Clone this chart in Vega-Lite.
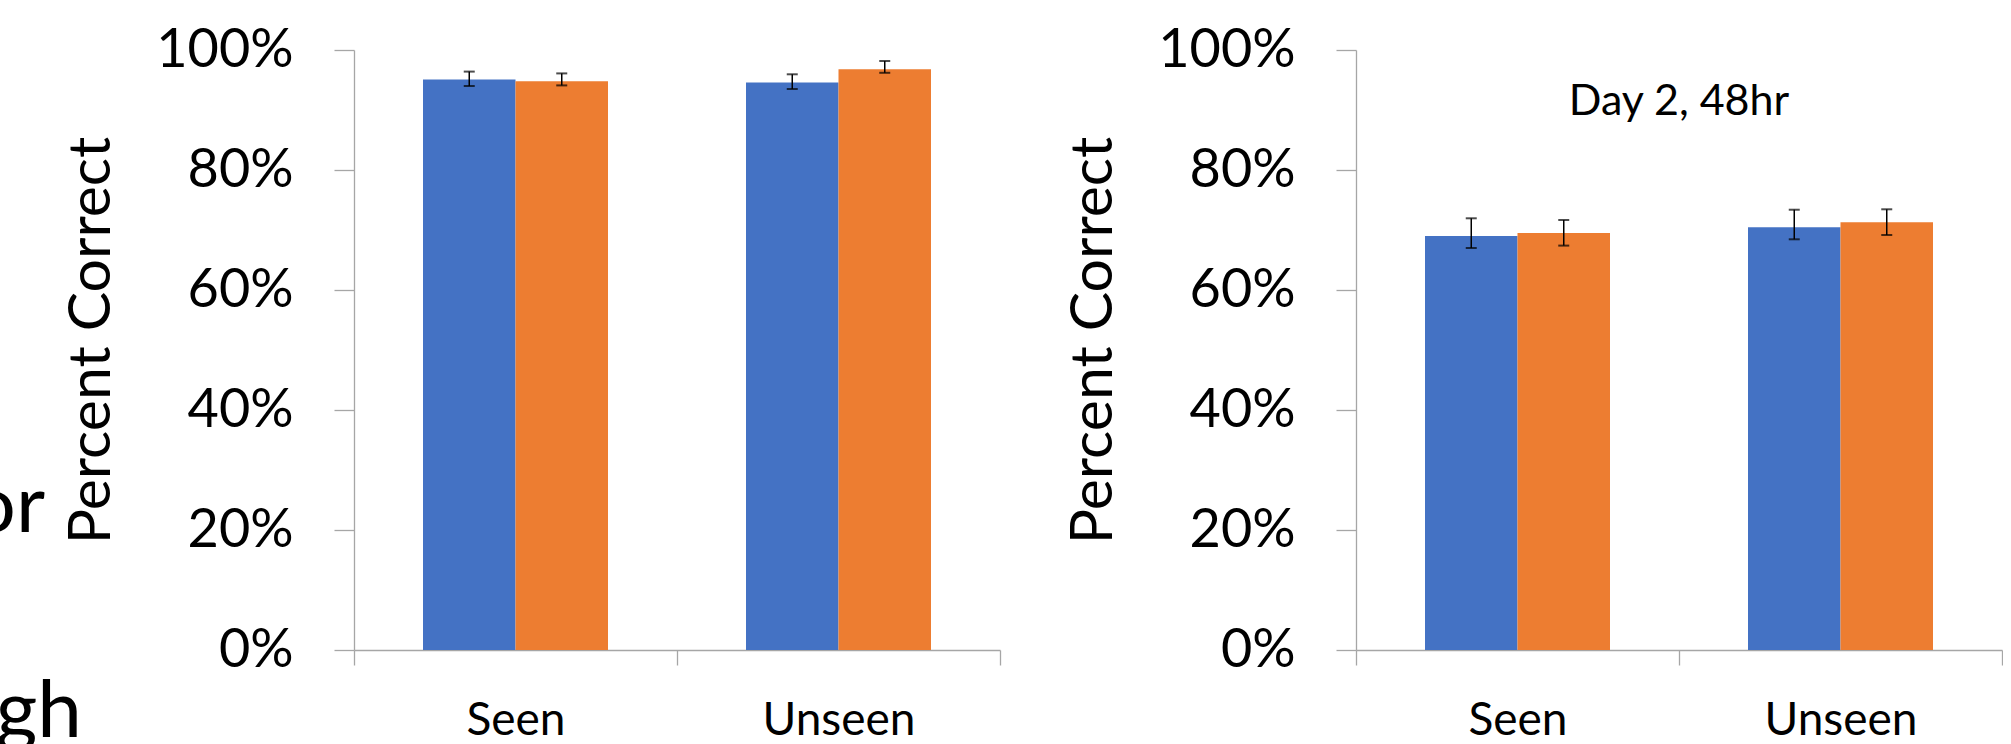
{
  "$schema": "https://vega.github.io/schema/vega-lite/v6.json",
  "padding": {"left": 0, "top": 23, "right": 0, "bottom": 0},
  "background": "white",
  "config": {
    "font": "Lato",
    "view": {"stroke": null},
    "axis": {"domainColor": "#A6A6A6", "tickColor": "#A6A6A6", "domainWidth": 1.3, "tickWidth": 1.3, "labelColor": "#000000", "titleColor": "#000000", "grid": false, "labelFont": "Lato", "titleFont": "Lato", "titleFontWeight": "normal"},
    "axisX": {"labelFontSize": 46, "tickSize": 15, "labelPadding": 33, "labelAngle": 0, "tickBand": "extent", "title": null},
    "axisY": {"labelFontSize": 54, "tickSize": 20, "labelPadding": 41, "titleFontSize": 59, "titlePadding": 34, "titleY": 290}
  },
  "datasets": {
    "day1": [
      {"cat": "Seen", "grp": "A", "pct": 0.951, "lo": 0.940, "hi": 0.964},
      {"cat": "Seen", "grp": "B", "pct": 0.948, "lo": 0.941, "hi": 0.961},
      {"cat": "Unseen", "grp": "A", "pct": 0.946, "lo": 0.935, "hi": 0.9595},
      {"cat": "Unseen", "grp": "B", "pct": 0.968, "lo": 0.962, "hi": 0.9817}
    ],
    "day2": [
      {"cat": "Seen", "grp": "A", "pct": 0.690, "lo": 0.670, "hi": 0.7195},
      {"cat": "Seen", "grp": "B", "pct": 0.695, "lo": 0.674, "hi": 0.7167},
      {"cat": "Unseen", "grp": "A", "pct": 0.7045, "lo": 0.6845, "hi": 0.7338},
      {"cat": "Unseen", "grp": "B", "pct": 0.7128, "lo": 0.6917, "hi": 0.7345}
    ]
  },
  "spacing": -28,
  "hconcat": [
    {
      "width": 90,
      "height": 721,
      "data": {"values": [{"txt": "or", "end": 0.5, "line": 0.2417}, {"txt": "gh", "end": 0.911, "line": -0.1}]},
      "mark": {"type": "text", "align": "right", "baseline": "alphabetic", "fontSize": 80, "font": "Lato", "color": "#000000", "clip": true},
      "encoding": {
        "x": {"field": "end", "type": "quantitative", "scale": {"domain": [0, 1]}, "axis": null},
        "y": {"field": "line", "type": "quantitative", "scale": {"domain": [-0.1567, 1.045]}, "axis": null},
        "text": {"field": "txt"}
      }
    },
    {
      "spacing": 63,
      "hconcat": [
        {
          "width": 646,
          "height": 600,
          "data": {"name": "day1"},
          "encoding": {
            "x": {"field": "cat", "type": "nominal", "scale": {"domain": ["Seen", "Unseen"], "paddingInner": 0, "paddingOuter": 0}},
            "xOffset": {"field": "grp", "type": "nominal", "scale": {"domain": ["A", "B"], "paddingInner": 0, "paddingOuter": 0.746}}
          },
          "layer": [
            {
              "mark": {"type": "bar"},
              "encoding": {
                "y": {"field": "pct", "type": "quantitative", "title": "Percent Correct", "scale": {"domain": [0, 1]}, "axis": {"format": ".0%", "values": [0, 0.2, 0.4, 0.6, 0.8, 1]}},
                "color": {"field": "grp", "type": "nominal", "scale": {"domain": ["A", "B"], "range": ["#4472C4", "#ED7D31"]}, "legend": null}
              }
            },
            {
              "mark": {"type": "rule", "color": "#000000", "strokeWidth": 1.5},
              "encoding": {
                "y": {"field": "lo", "type": "quantitative", "title": "Percent Correct"},
                "y2": {"field": "hi", "title": "Percent Correct"}
              }
            },
            {
              "mark": {"type": "tick", "color": "#000000", "thickness": 2, "size": 11, "orient": "horizontal"},
              "encoding": {"y": {"field": "lo", "type": "quantitative", "title": "Percent Correct"}}
            },
            {
              "mark": {"type": "tick", "color": "#000000", "thickness": 2, "size": 11, "orient": "horizontal"},
              "encoding": {"y": {"field": "hi", "type": "quantitative", "title": "Percent Correct"}}
            }
          ]
        },
        {
          "width": 646,
          "height": 600,
          "layer": [
            {
              "data": {"name": "day2"},
              "encoding": {
                "x": {"field": "cat", "type": "nominal", "scale": {"domain": ["Seen", "Unseen"], "paddingInner": 0, "paddingOuter": 0}},
                "xOffset": {"field": "grp", "type": "nominal", "scale": {"domain": ["A", "B"], "paddingInner": 0, "paddingOuter": 0.746}}
              },
              "layer": [
                {
                  "mark": {"type": "bar"},
                  "encoding": {
                    "y": {"field": "pct", "type": "quantitative", "title": "Percent Correct", "scale": {"domain": [0, 1]}, "axis": {"format": ".0%", "values": [0, 0.2, 0.4, 0.6, 0.8, 1]}},
                    "color": {"field": "grp", "type": "nominal", "scale": {"domain": ["A", "B"], "range": ["#4472C4", "#ED7D31"]}, "legend": null}
                  }
                },
                {
                  "mark": {"type": "rule", "color": "#000000", "strokeWidth": 1.5},
                  "encoding": {
                    "y": {"field": "lo", "type": "quantitative", "title": "Percent Correct"},
                    "y2": {"field": "hi", "title": "Percent Correct"}
                  }
                },
                {
                  "mark": {"type": "tick", "color": "#000000", "thickness": 2, "size": 11, "orient": "horizontal"},
                  "encoding": {"y": {"field": "lo", "type": "quantitative", "title": "Percent Correct"}}
                },
                {
                  "mark": {"type": "tick", "color": "#000000", "thickness": 2, "size": 11, "orient": "horizontal"},
                  "encoding": {"y": {"field": "hi", "type": "quantitative", "title": "Percent Correct"}}
                }
              ]
            },
            {
              "data": {"values": [{"cat": "Seen", "label": "Day 2, 48hr"}]},
              "mark": {"type": "text", "fontSize": 43, "align": "center", "baseline": "alphabetic", "color": "#000000"},
              "encoding": {
                "x": {"field": "cat", "type": "nominal", "bandPosition": 1},
                "y": {"datum": 0.892, "type": "quantitative", "title": "Percent Correct"},
                "text": {"field": "label"}
              }
            }
          ]
        }
      ]
    }
  ]
}
